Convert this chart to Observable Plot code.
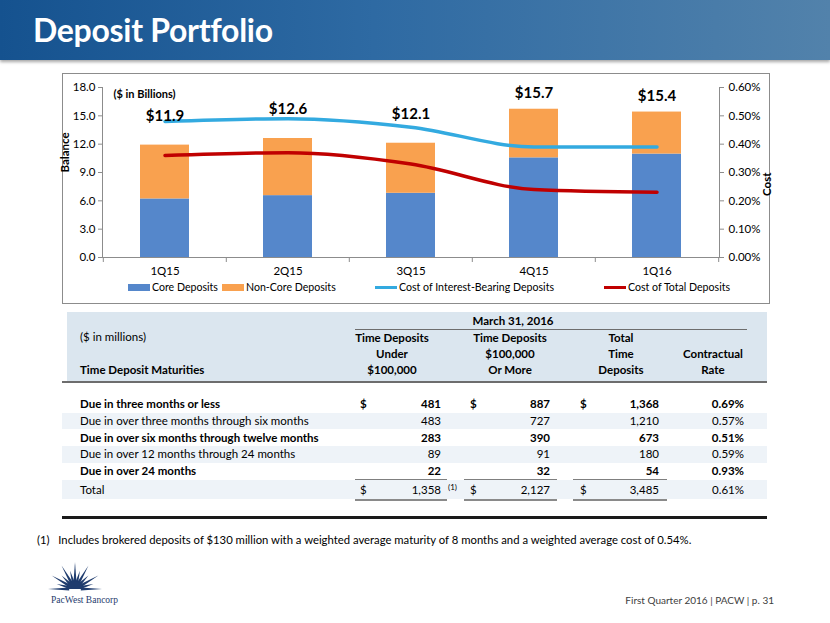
<!DOCTYPE html>
<html>
<head>
<meta charset="utf-8">
<script src="https://cdn.jsdelivr.net/npm/d3@7"></script>
<script src="https://cdn.jsdelivr.net/npm/@observablehq/plot@0.6"></script>
<style>
  html, body { margin: 0; padding: 0; background: #fff; }
  body { width: 830px; height: 623px; position: relative; overflow: hidden; font-family: Lato, "Open Sans", sans-serif; color: #000; }
  .abs { position: absolute; white-space: nowrap; }
  #banner { position: absolute; left: 0; top: 0; width: 830px; height: 60px;
    background: linear-gradient(to right, #15528f 0%, #2e6aa3 45%, #5282ab 100%);
    box-shadow: 0 2px 3px rgba(0,0,0,0.35); }
  #title { position: absolute; left: 33px; top: 10px; font-size: 32px; font-weight: bold; color: #fff; letter-spacing: -0.3px; }
  #chartbox { position: absolute; left: 62px; top: 73px; width: 708px; height: 231px; border: 1px solid #8c8c8c; box-sizing: border-box; }
  #plot { position: absolute; left: 62px; top: 74px; }
  #plot svg { overflow: visible; }
  #legend { position: absolute; left: 0; top: 280px; width: 830px; height: 14px; font-size: 10.6px; }
  .lg { position: absolute; top: 0; display: flex; align-items: center; height: 14px; }
  .sw { display: inline-block; width: 22px; margin-right: 2px; }
  .t { position: absolute; white-space: nowrap; font-size: 11.5px; line-height: 14px; transform: translateY(-50%); }
  .b { font-weight: bold; }
  .r { text-align: right; }
  .c { text-align: center; }
</style>
</head>
<body>
<div id="banner"><div id="title">Deposit Portfolio</div></div>
<div id="chartbox"></div>
<div id="plot"></div>
<div id="legend"></div>
<div id="table"></div>
<div class="abs" style="left:37px;top:533px;font-size:11.3px;">(1)&nbsp;&nbsp;&nbsp;Includes brokered deposits of $130 million with a weighted average maturity of 8 months and a weighted average cost of 0.54%.</div>
<svg class="abs" style="left:40px;top:558px" width="90" height="54" viewBox="0 0 90 54">
  <g id="burst" fill="#1f3c6e"></g>
  <text x="11" y="45" font-family="'Liberation Serif', serif" font-size="9.5" fill="#1f3c6e">PacWest Bancorp</text>
</svg>
<div class="abs" style="right:56px;top:594px;font-size:10px;color:#404040;">First Quarter 2016 | PACW | p. 31</div>
<script>
// ---------- chart data ----------
const quarters = ["1Q15", "2Q15", "3Q15", "4Q15", "1Q16"];
const coreDeposits = [6.2, 6.55, 6.8, 10.55, 10.95];
const nonCoreDeposits = [5.7, 6.05, 5.3, 5.15, 4.45];
const totalBalance = [11.9, 12.6, 12.1, 15.7, 15.4];
const totalLabels = ["$11.9", "$12.6", "$12.1", "$15.7", "$15.4"];
const costInterestBearing = [0.48, 0.49, 0.46, 0.39, 0.39];
const costTotalDeposits = [0.36, 0.37, 0.33, 0.24, 0.23];
const balanceTicks = [0, 3, 6, 9, 12, 15, 18];
const costTicks = [0, 0.1, 0.2, 0.3, 0.4, 0.5, 0.6];
const seriesNames = ["Core Deposits", "Non-Core Deposits", "Cost of Interest-Bearing Deposits", "Cost of Total Deposits"];
const seriesColors = ["#5587cb", "#f9a14f", "#33aae0", "#c00000"];

// ---------- table data ----------
const rowLabels = ["Due in three months or less", "Due in over three months through six months", "Due in over six months through twelve months", "Due in over 12 months through 24 months", "Due in over 24 months"];
const under100k = ["481", "483", "283", "89", "22"];
const over100k = ["887", "727", "390", "91", "32"];
const totalTime = ["1,368", "1,210", "673", "180", "54"];
const contractualRate = ["0.69%", "0.57%", "0.51%", "0.59%", "0.93%"];
const rowBold = [true, false, true, false, true];
const totalRow = ["Total", "1,358", "2,127", "3,485", "0.61%"];

// ---------- chart ----------
const K = 18 / 0.6; // cost (%) -> balance axis units
const W = 708, H = 231, ML = 40, MR = 51, MT = 13, MB = 48;
const step = (W - ML - MR) / quarters.length;

const bars = quarters.flatMap((q, i) => [
  {q, series: seriesNames[0], v: coreDeposits[i]},
  {q, series: seriesNames[1], v: nonCoreDeposits[i]}
]);
const lines = [
  ...quarters.map((q, i) => ({q, series: seriesNames[2], c: costInterestBearing[i]})),
  ...quarters.map((q, i) => ({q, series: seriesNames[3], c: costTotalDeposits[i]}))
];
// total label: just above the bar, or lifted clear of the interest-bearing cost line when that line is above the bar
const labels = quarters.map((q, i) => {
  const lineAbove = costInterestBearing[i] * K > totalBalance[i];
  return {q, label: totalLabels[i], y: totalBalance[i] + (lineAbove ? 3.1 : 1.7)};
});

const chart = Plot.plot({
  width: W, height: H,
  marginLeft: ML, marginRight: MR, marginTop: MT, marginBottom: MB,
  style: {fontFamily: "Lato, sans-serif", fontSize: "11px", color: "#000", background: "transparent"},
  x: {domain: quarters, paddingInner: 0.6, paddingOuter: 0.3},
  y: {domain: [0, 18]},
  color: {domain: seriesNames, range: seriesColors},
  marks: [
    Plot.barY(bars, {x: "q", y: "v", fill: "series"}),
    Plot.line(lines, {x: "q", y: d => d.c * K, stroke: "series", z: "series", strokeWidth: 3.5, curve: "monotone-x"}),
    Plot.text(labels, {x: "q", y: "y", text: "label", fontSize: 15, fontWeight: "bold"}),
    Plot.ruleY([0], {stroke: "#8c8c8c"}),
    Plot.frame({anchor: "left", stroke: "#8c8c8c"}),
    Plot.frame({anchor: "right", stroke: "#8c8c8c"}),
    Plot.axisY({anchor: "left", ticks: balanceTicks, tickFormat: d => d.toFixed(1), tickSize: 4, tickPadding: 3, stroke: "#8c8c8c", label: null, fontSize: 11.5}),
    Plot.axisY({anchor: "right", ticks: costTicks.map(c => c * K), tickFormat: v => (v / K).toFixed(2) + "%", tickSize: 4, tickPadding: 5, stroke: "#8c8c8c", label: null, fontSize: 11.5}),
    Plot.axisX({tickSize: 0, tickPadding: 9, label: null, fontSize: 11.5}),
    Plot.axisX({tickSize: 5, text: null, dx: -step / 2, stroke: "#8c8c8c", label: null}),
    Plot.axisX({ticks: [quarters[quarters.length - 1]], tickSize: 5, text: null, dx: step / 2, stroke: "#8c8c8c", label: null}),
    Plot.text(["Balance"], {frameAnchor: "left", dx: -37, rotate: -90, fontWeight: "bold", fontSize: 11.5}),
    Plot.text(["Cost"], {frameAnchor: "right", dx: 48, rotate: -90, fontWeight: "bold", fontSize: 11.5}),
    Plot.text(["($ in Billions)"], {frameAnchor: "top-left", dx: 11, dy: 3, textAnchor: "start", fontWeight: "bold", fontSize: 11})
  ]
});
document.getElementById("plot").appendChild(chart);

// legend (item left edges follow the reference's legend columns)
const legendX = [128, 222, 375, 604];
const legend = document.getElementById("legend");
seriesNames.forEach((name, i) => {
  const item = document.createElement("div");
  item.className = "lg";
  item.style.left = legendX[i] + "px";
  const sw = document.createElement("span");
  sw.className = "sw";
  sw.style.height = i < 2 ? "7px" : "3px";
  sw.style.background = seriesColors[i];
  item.appendChild(sw);
  item.appendChild(document.createTextNode(name));
  legend.appendChild(item);
});

// ---------- table ----------
const T = document.getElementById("table");
function box(x, y, w, h, bg) {
  const d = document.createElement("div");
  d.style.cssText = `position:absolute;left:${x}px;top:${y}px;width:${w}px;height:${h}px;background:${bg}`;
  T.appendChild(d);
}
function txt(x, y, s, cls, w) {
  const d = document.createElement("div");
  d.className = "t " + (cls || "");
  d.textContent = s;
  if (cls && cls.includes("r")) { d.style.left = (x - (w || 100)) + "px"; d.style.width = (w || 100) + "px"; }
  else if (cls && cls.includes("c")) { d.style.left = (x - (w || 100) / 2) + "px"; d.style.width = (w || 100) + "px"; }
  else d.style.left = x + "px";
  d.style.top = y + "px";
  T.appendChild(d);
  return d;
}
// header
box(67, 312, 700, 70, "#dbe6ef");
box(62, 381, 705, 2, "#6d6d6d");
box(355, 329, 392, 1, "#6d6d6d");
txt(513, 321, "March 31, 2016", "b c", 160);
txt(80, 337, "($ in millions)");
txt(80, 370, "Time Deposit Maturities", "b");
[[392, ["Time Deposits", "Under", "$100,000"]], [510, ["Time Deposits", "$100,000", "Or More"]], [621, ["Total", "Time", "Deposits"]]]
  .forEach(([x, ls]) => ls.forEach((s, j) => txt(x, 338 + j * 16, s, "b c", 120)));
txt(713, 354, "Contractual", "b c", 100);
txt(713, 370, "Rate", "b c", 100);
// body
const rowH = 16.7, rowTop = 396;
rowLabels.forEach((lab, i) => {
  const y0 = rowTop + i * rowH, yc = y0 + rowH / 2;
  if (i % 2 === 1) box(62, y0, 705, rowH, "#eef3f8");
  const cls = rowBold[i] ? "b" : "";
  txt(80, yc, lab, cls);
  if (i === 0) { txt(360, yc, "$", cls); txt(470, yc, "$", cls); txt(580, yc, "$", cls); }
  txt(441, yc, under100k[i], cls + " r", 80);
  txt(550, yc, over100k[i], cls + " r", 80);
  txt(659, yc, totalTime[i], cls + " r", 80);
  txt(744, yc, contractualRate[i], cls + " r", 80);
});
const yT = rowTop + 5 * rowH;
box(62, yT + 0.5, 705, 18.5, "#eef3f8");
[[355, 92], [464, 93], [573, 94]].forEach(([x, w]) => { box(x, yT - 0.5, w, 1, "#7f7f7f"); box(x, yT + 19, w, 2, "#8a8a8a"); });
const yc = yT + 10;
txt(80, yc, totalRow[0]);
txt(360, yc, "$"); txt(470, yc, "$"); txt(580, yc, "$");
txt(441, yc, totalRow[1], "r", 80);
const sup = txt(448, yc - 3, "(1)"); sup.style.fontSize = "8px";
txt(550, yc, totalRow[2], "r", 80);
txt(659, yc, totalRow[3], "r", 80);
txt(744, yc, totalRow[4], "r", 80);
box(62, 516, 705, 3, "#1a1a1a");

// logo starburst
const g = document.getElementById("burst");
const cx = 35, cy = 31;
for (let k = 0; k <= 12; k++) {
  const a = Math.PI + k * Math.PI / 12;
  const len = (k % 2 === 0) ? 27 : 19;
  const wa = 0.27;
  const tip = [cx + len * Math.cos(a), cy + len * Math.sin(a)];
  const l = [cx + 6 * Math.cos(a - wa), cy + 6 * Math.sin(a - wa)];
  const r = [cx + 6 * Math.cos(a + wa), cy + 6 * Math.sin(a + wa)];
  const p = document.createElementNS("http://www.w3.org/2000/svg", "polygon");
  p.setAttribute("points", `${l.join(",")} ${tip.join(",")} ${r.join(",")}`);
  g.appendChild(p);
}
const hub = document.createElementNS("http://www.w3.org/2000/svg", "path");
hub.setAttribute("d", `M${cx - 8},${cy} A8,8 0 0 1 ${cx + 8},${cy} Z`);
g.appendChild(hub);
</script>
</body>
</html>
